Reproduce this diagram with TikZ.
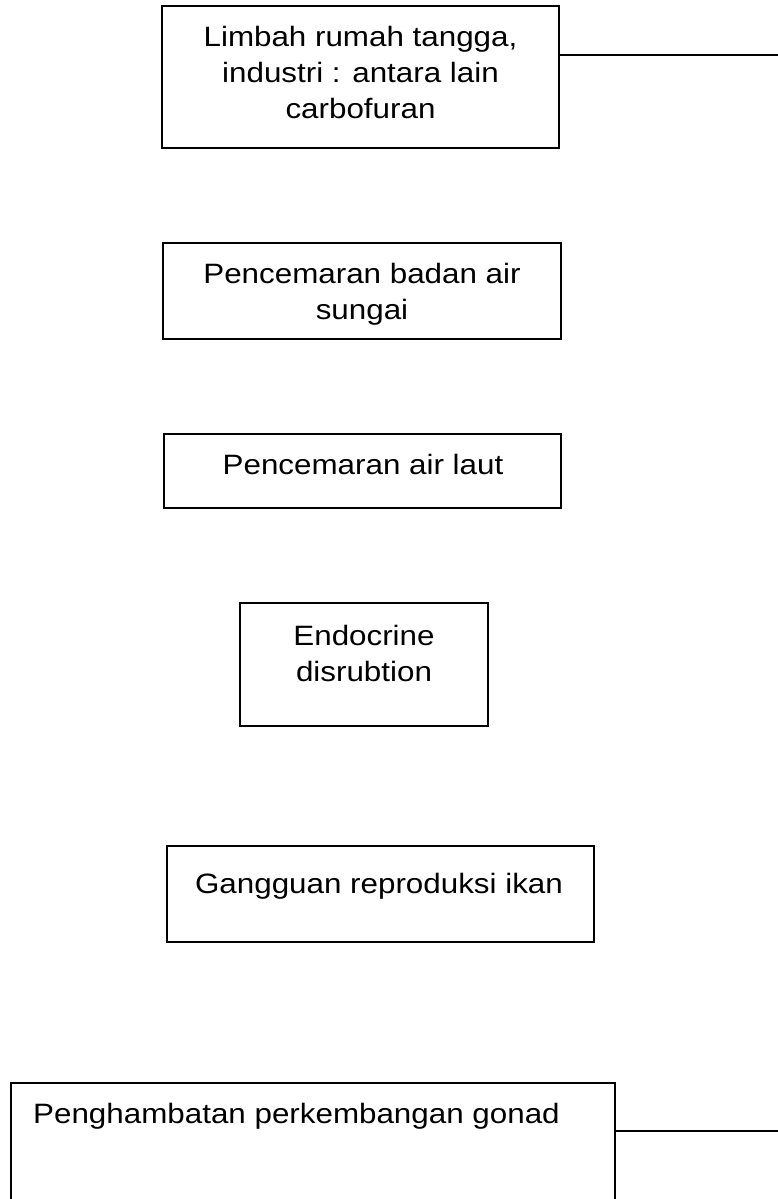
\documentclass[tikz,border=0pt]{standalone}
\usepackage{fontspec}
\setmainfont{Liberation Sans}[FakeStretch=1.12]
\begin{document}
\begin{tikzpicture}[x=1pt,y=-1pt,
  box/.style={draw, line width=1.5pt, rectangle, inner sep=0pt},
  lbl/.style={font=\fontsize{28}{36}\selectfont, align=center, inner sep=0pt},
  conn/.style={line width=1.5pt}]
\useasboundingbox (0,0) rectangle (778,1199);
\clip (0,0) rectangle (778,1199);
% boxes
\node[box, minimum width=397pt, minimum height=142pt] (b1) at (360.5,77) {};
\node[box, minimum width=398pt, minimum height=96pt] (b2) at (362,291) {};
\node[box, minimum width=397pt, minimum height=74pt] (b3) at (362.5,471) {};
\node[box, minimum width=248pt, minimum height=123pt] (b4) at (364,664.5) {};
\node[box, minimum width=427pt, minimum height=96pt] (b5) at (380.5,894) {};
\node[box, minimum width=604pt, minimum height=147pt] (b6) at (313,1156.5) {};
% texts (base anchor = baseline of the last line)
\node[lbl, anchor=base] (t1) at (360.5,118) {Limbah rumah tangga,\\industri : antara lain\\carbofuran};
\node[lbl, anchor=base] (t2) at (362,319) {Pencemaran badan air\\sungai};
\node[lbl, anchor=base] (t3) at (363,474) {Pencemaran air laut};
\node[lbl, anchor=base] (t4) at (364,681) {Endocrine\\disrubtion};
\node[lbl, anchor=base] (t5) at (379,893) {Gangguan reproduksi ikan};
\node[lbl, anchor=base west] (t6) at (33,1123) {Penghambatan perkembangan gonad};
% connectors leaving the picture on the right
\coordinate (e1) at (778,55);
\coordinate (e6) at (778,1131);
\draw[conn] (b1.east |- e1) -- (e1);
\draw[conn] (b6.east |- e6) -- (e6);
\end{tikzpicture}
\end{document}
